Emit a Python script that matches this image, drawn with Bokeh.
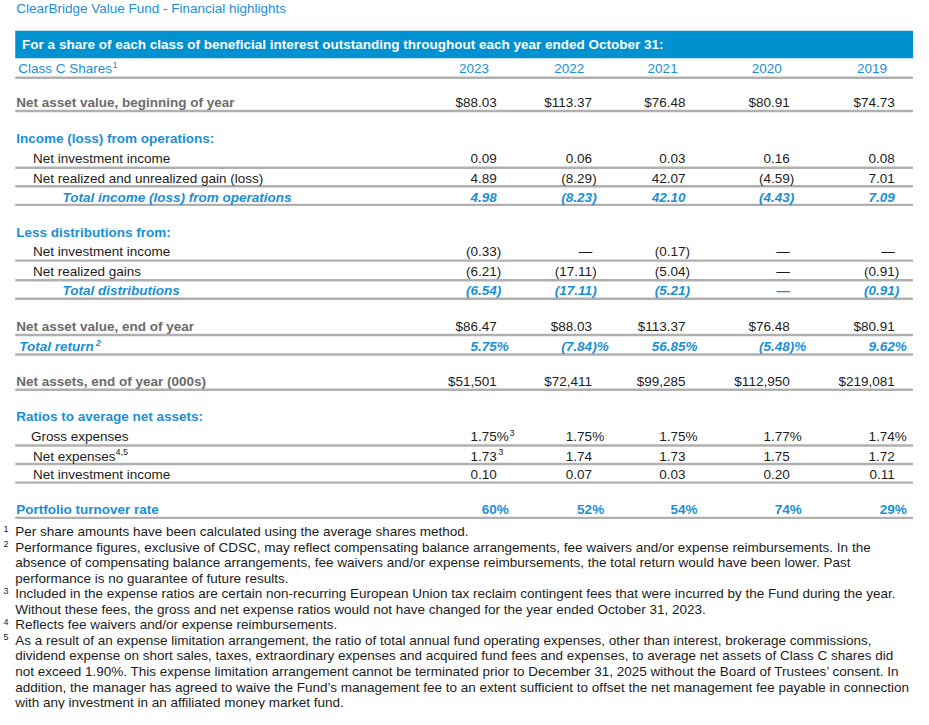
from bokeh.plotting import figure
from bokeh.models import Range1d, ColumnDataSource
from bokeh.embed import file_html
from bokeh.resources import INLINE
from bokeh.core.properties import value

# ---------------- data ----------------
title = "ClearBridge Value Fund - Financial highlights"
banner = "For a share of each class of beneficial interest outstanding throughout each year ended October 31:"
class_label = "Class C Shares"
years = ["2023", "2022", "2021", "2020", "2019"]
nav_begin = ["$88.03", "$113.37", "$76.48", "$80.91", "$74.73"]
nii_ops = ["0.09", "0.06", "0.03", "0.16", "0.08"]
gain_loss = ["4.89", "(8.29)", "42.07", "(4.59)", "7.01"]
total_ops = ["4.98", "(8.23)", "42.10", "(4.43)", "7.09"]
dist_nii = ["(0.33)", "\u2014", "(0.17)", "\u2014", "\u2014"]
dist_gains = ["(6.21)", "(17.11)", "(5.04)", "\u2014", "(0.91)"]
total_dist = ["(6.54)", "(17.11)", "(5.21)", "\u2014", "(0.91)"]
nav_end = ["$86.47", "$88.03", "$113.37", "$76.48", "$80.91"]
total_return = ["5.75%", "(7.84)%", "56.85%", "(5.48)%", "9.62%"]
net_assets = ["$51,501", "$72,411", "$99,285", "$112,950", "$219,081"]
gross_exp = ["1.75%", "1.75%", "1.75%", "1.77%", "1.74%"]
gross_exp_notes = ["3", "", "", "", ""]
net_exp = ["1.73", "1.74", "1.73", "1.75", "1.72"]
net_exp_notes = ["3", "", "", "", ""]
nii_ratio = ["0.10", "0.07", "0.03", "0.20", "0.11"]
turnover = ["60%", "52%", "54%", "74%", "29%"]

footnote_marks = ["1", "2", "", "", "3", "", "4", "5", "", "", "", ""]
footnote_lines = [
    "Per share amounts have been calculated using the average shares method.",
    "Performance figures, exclusive of CDSC, may reflect compensating balance arrangements, fee waivers and/or expense reimbursements. In the",
    "absence of compensating balance arrangements, fee waivers and/or expense reimbursements, the total return would have been lower. Past",
    "performance is no guarantee of future results.",
    "Included in the expense ratios are certain non-recurring European Union tax reclaim contingent fees that were incurred by the Fund during the year.",
    "Without these fees, the gross and net expense ratios would not have changed for the year ended October 31, 2023.",
    "Reflects fee waivers and/or expense reimbursements.",
    "As a result of an expense limitation arrangement, the ratio of total annual fund operating expenses, other than interest, brokerage commissions,",
    "dividend expense on short sales, taxes, extraordinary expenses and acquired fund fees and expenses, to average net assets of Class C shares did",
    "not exceed 1.90%. This expense limitation arrangement cannot be terminated prior to December 31, 2025 without the Board of Trustees\u2019 consent. In",
    "addition, the manager has agreed to waive the Fund\u2019s management fee to an extent sufficient to offset the net management fee payable in connection",
    "with any investment in an affiliated money market fund.",
]

# ---------------- styles / layout ----------------
FONT = "Liberation Sans"
BLUE = "#1b8fd4"
BAR = "#0091d1"
GRAY = "#6b6b6b"
BLACK = "#1c1c1c"
RULE = "#b0b0b0"
FS = 13.5
SUP = 9

X0, X1, Y0, Y1 = 0, 929, 0, 725
W, H = 913, 709

col_edges = [505, 602, 697, 803, 910]

# (y, label, label_x, label_style, values, value_style, rule_y, notes, label_sup, sup_x)
rows = [
    (104, "Net asset value, beginning of year", 16, "gray", nav_begin, "plain", 113, None, "", 0),
    (141, "Income (loss) from operations:", 16, "head", None, None, None, None, "", 0),
    (162, "Net investment income", 33, "plain", nii_ops, "plain", 171, None, "", 0),
    (182, "Net realized and unrealized gain (loss)", 33, "plain", gain_loss, "plain", 190, None, "", 0),
    (201, "Total income (loss) from operations", 63, "total", total_ops, "total", 209, None, "", 0),
    (237, "Less distributions from:", 16, "head", None, None, None, None, "", 0),
    (257, "Net investment income", 33, "plain", dist_nii, "plain", 266, None, "", 0),
    (277, "Net realized gains", 33, "plain", dist_gains, "plain", 286, None, "", 0),
    (297, "Total distributions", 63, "total", total_dist, "total", 305, None, "", 0),
    (333, "Net asset value, end of year", 16, "gray", nav_end, "plain", 342, None, "", 0),
    (354, "Total return", 19, "total", total_return, "total", 362, None, "2", 97),
    (390, "Net assets, end of year (000s)", 16, "gray", net_assets, "plain", 398, None, "", 0),
    (425, "Ratios to average net assets:", 16, "head", None, None, None, None, "", 0),
    (446, "Gross expenses", 31, "plain", gross_exp, "plain", 455, gross_exp_notes, "", 0),
    (466, "Net expenses", 33, "plain", net_exp, "plain", 474, net_exp_notes, "4,5", 117),
    (485, "Net investment income", 33, "plain", nii_ratio, "plain", 493, None, "", 0),
    (520, "Portfolio turnover rate", 16, "head", turnover, "head", 529, None, "", 0),
]

STYLE = {
    "plain": (BLACK, "normal"),
    "gray": (GRAY, "bold"),
    "head": (BLUE, "bold"),
    "total": (BLUE, "bold italic"),
    "blue": (BLUE, "normal"),
    "white": ("white", "bold"),
}

T = dict(x=[], y=[], text=[], color=[], style=[], align=[], size=[])


def put(x, y, s, style, align="left", size=FS):
    c, fs = STYLE[style]
    T["x"].append(x)
    T["y"].append(y)
    T["text"].append(s)
    T["color"].append(c)
    T["style"].append(fs)
    T["align"].append(align)
    T["size"].append(f"{size}px")


def split_tail(s):
    idx = max((i for i, ch in enumerate(s) if ch.isdigit()), default=len(s) - 1)
    return s[: idx + 1], s[idx + 1:]


p = figure(width=W, height=H, x_range=Range1d(X0, X1), y_range=Range1d(Y1, Y0),
           output_backend="svg", toolbar_location=None, min_border=0,
           x_axis_location=None, y_axis_location=None)
p.grid.visible = False
p.outline_line_color = None
p.background_fill_color = "white"
p.border_fill_color = "white"

# title & banner
put(16, 8.5, title, "blue")
p.quad(left=[15], right=[929], top=[31], bottom=[59], fill_color=BAR, line_color=None)
put(22, 45, banner, "white")

# column header row
put(18, 70, class_label, "blue")
put(114, 66, "1", "blue", size=SUP)
for e, yr in zip(col_edges, years):
    put(e - 8, 70, yr, "blue", align="right")

rule_y = [79]
for (y, label, lx, lst, vals, vst, ry, notes, lsup, sx) in rows:
    put(lx, y, label, lst)
    if lsup:
        put(sx, y - 4, lsup, lst, size=SUP)
    if vals:
        for k, (e, v) in enumerate(zip(col_edges, vals)):
            body, tail = split_tail(v)
            put(e, y, body, vst, align="right")
            if tail:
                put(e, y, tail, vst, align="left")
            if notes and notes[k]:
                off = 13.0 if "%" in tail else 1.5
                put(e + off, y - 4, notes[k], vst, size=SUP)
    if ry is not None:
        rule_y.append(ry)

p.segment(x0=[15] * len(rule_y), x1=[929] * len(rule_y), y0=rule_y, y1=rule_y,
          line_color=RULE, line_width=2.4)

# footnotes
fy = 543
for mark, line in zip(footnote_marks, footnote_lines):
    if mark:
        put(3, fy - 3, mark, "plain", size=SUP)
    put(15, fy, line, "plain")
    fy += 15.9

src = ColumnDataSource(T)
p.text(x="x", y="y", text="text", source=src, text_font=value(FONT),
       text_font_size="size", text_color="color", text_font_style="style",
       text_align="align", text_baseline="middle")

open("out.html", "w").write(file_html(p, INLINE))
